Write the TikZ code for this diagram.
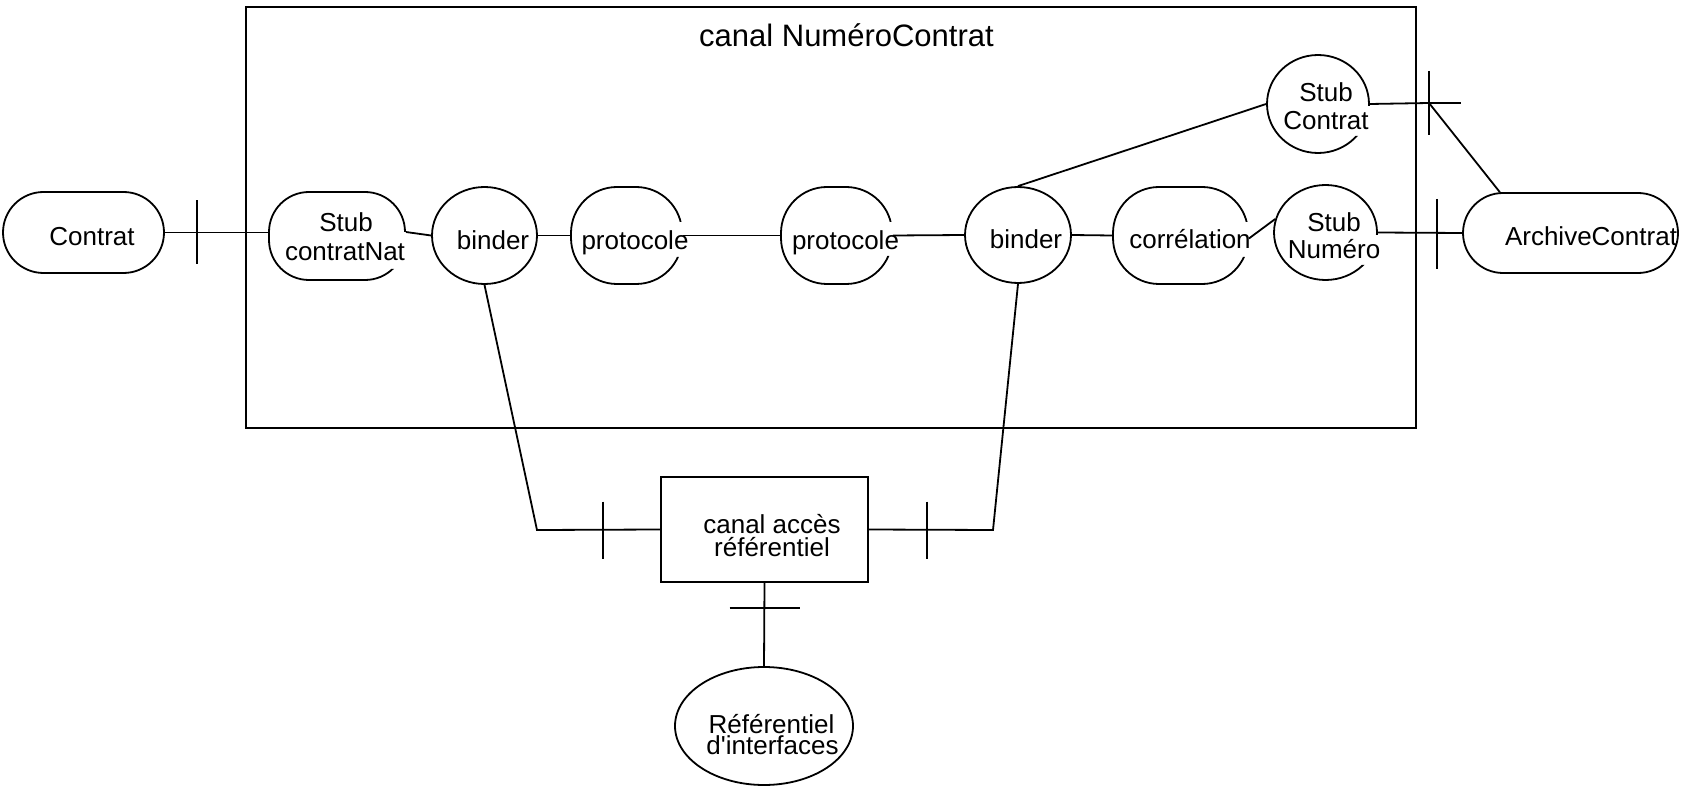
\documentclass[tikz,border=0pt]{standalone}
\usepackage{fontspec}
\setmainfont{Liberation Sans}
\usetikzlibrary{shapes.geometric,shapes.misc}

\begin{document}
\begin{tikzpicture}[x=1pt,y=-1pt,line width=1.8pt,
  lbl/.style={font=\fontsize{26}{30}\selectfont, anchor=base, inner sep=0pt},
  ttl/.style={font=\fontsize{31}{36}\selectfont, anchor=base, inner sep=0pt},
  oval/.style={ellipse, draw, inner sep=0pt},
  pill/.style={rounded rectangle, draw, inner sep=0pt},
  soft/.style={rectangle, draw, inner sep=0pt, rounded corners=#1},
  box/.style={rectangle, draw, inner sep=0pt}]
\useasboundingbox (0,0) rectangle (1681,786);

% channel container
\node[box, minimum width=1170.3pt, minimum height=421pt] (frame) at (830.85,217.2) {};
\node[ttl] (title) at (846.5,47) {canal NuméroContrat};

% outer components
\node[pill, minimum width=161pt, minimum height=81pt] (contrat) at (83.5,232.5) {};
\node[pill, minimum width=215pt, minimum height=80pt] (archive) at (1570.5,233) {};
\node[box, minimum width=207pt, minimum height=105pt] (canal) at (764.5,529.5) {};
\node[oval, minimum width=178pt, minimum height=118pt] (ref) at (764,726) {};

% inner components (some outlines are left open on one side)
\begin{scope}
  \clip (250,180) -- (430,180) -- (430,232) -- (385,232) -- (385,269) -- (430,269) -- (430,295) -- (250,295) -- cycle;
  \node[soft=40pt, minimum width=136pt, minimum height=88pt] (scn) at (337,236) {};
\end{scope}
\node[oval, minimum width=105pt, minimum height=97pt] (b1) at (484.5,235.5) {};
\begin{scope}
  \clip (560,175) -- (700,175) -- (700,222) -- (662,222) -- (662,257) -- (700,257) -- (700,295) -- (560,295) -- cycle;
  \node[soft=46pt, minimum width=111pt, minimum height=97pt] (p1) at (626.5,235.5) {};
\end{scope}
\begin{scope}
  \clip (770,175) -- (910,175) -- (910,222) -- (872,222) -- (872,256) -- (910,256) -- (910,295) -- (770,295) -- cycle;
  \node[soft=46pt, minimum width=111pt, minimum height=97pt] (p2) at (836.5,235.5) {};
\end{scope}
\node[oval, minimum width=106pt, minimum height=96pt] (b2) at (1018,235) {};
\begin{scope}
  \clip (1100,175) -- (1265,175) -- (1265,222) -- (1230,222) -- (1230,257) -- (1265,257) -- (1265,295) -- (1100,295) -- cycle;
  \node[soft=46pt, minimum width=135pt, minimum height=97pt] (cor) at (1180.5,235.5) {};
\end{scope}
\begin{scope}
  \clip (1260,175) -- (1395,175) -- (1395,235) -- (1358,235) -- (1358,265) -- (1395,265) -- (1395,295) -- (1260,295) -- cycle;
  \node[oval, minimum width=103pt, minimum height=95pt] (sn) at (1325.5,232.5) {};
\end{scope}
\begin{scope}
  \clip (1255,45) -- (1390,45) -- (1390,106) -- (1352,106) -- (1352,136) -- (1390,136) -- (1390,165) -- (1255,165) -- cycle;
  \node[oval, minimum width=102pt, minimum height=98pt] (sc) at (1318,104) {};
\end{scope}

% labels
\node[lbl] (contrat-t) at (92,246) {Contrat};
\node[lbl] (scn-t1) at (346,232) {Stub};
\node[lbl] (scn-t2) at (345,261) {contratNat};
\node[lbl] (b1-t) at (493,250) {binder};
\node[lbl] (p1-t) at (635,250) {protocole};
\node[lbl] (p2-t) at (845.5,250) {protocole};
\node[lbl] (b2-t) at (1026,249) {binder};
\node[lbl] (cor-t) at (1190,249) {corrélation};
\node[lbl] (sn-t1) at (1334,232) {Stub};
\node[lbl] (sn-t2) at (1334,259) {Numéro};
\node[lbl] (sc-t1) at (1326,102) {Stub};
\node[lbl] (sc-t2) at (1326,130) {Contrat};
\node[lbl] (archive-t) at (1591,246) {ArchiveContrat};
\node[lbl] (canal-t1) at (772,533) {canal accès};
\node[lbl] (canal-t2) at (772,556) {référentiel};
\node[lbl] (ref-t1) at (771.5,733) {Référentiel};
\node[lbl] (ref-t2) at (772.5,754) {d\textquotesingle interfaces};

% bend points and cardinality ticks
\coordinate (k) at (1429,103);
\coordinate (c1) at (537,530);
\coordinate (c2) at (993,530);
\coordinate (t1) at (197,232.5);
\coordinate (t2) at (1437,234);
\coordinate (t3) at (603,530);
\coordinate (t4) at (927,530);
\coordinate (t5) at (764.5,608);

% connectors
\draw (contrat.east) -- (contrat.east -| scn.west);
\draw ([yshift=4pt]scn.east) -- (b1.west);
\draw (b1.east) -- (p1.west);
\draw (p1.east) -- (p2.west);
\draw (p2.east) -- (b2.west);
\draw (b2.east) -- (cor.west);
\draw ([yshift=-3pt]cor.east) -- (sn.165);
\draw (sn.east) -- (archive.west);
\draw (b2.north) -- (sc.west);
\draw (sc.east) -- (k) -- (archive.150);
\draw (b1.south) -- (c1) -- (canal.west);
\draw (canal.east) -- (c2) -- (b2.south);
\draw (canal.south) -- (ref.north);

% ticks
\draw ([yshift=32pt]t1) -- ([yshift=-32pt]t1);
\draw ([yshift=35pt]t2) -- ([yshift=-35pt]t2);
\draw ([yshift=32pt]k) -- ([yshift=-32pt]k);
\draw (k) -- ++(32,0);
\draw ([yshift=28.5pt]t3) -- ([yshift=-28.5pt]t3);
\draw ([yshift=28.5pt]t4) -- ([yshift=-28.5pt]t4);
\draw ([xshift=-35pt]t5) -- ([xshift=35pt]t5);
\end{tikzpicture}
\end{document}
